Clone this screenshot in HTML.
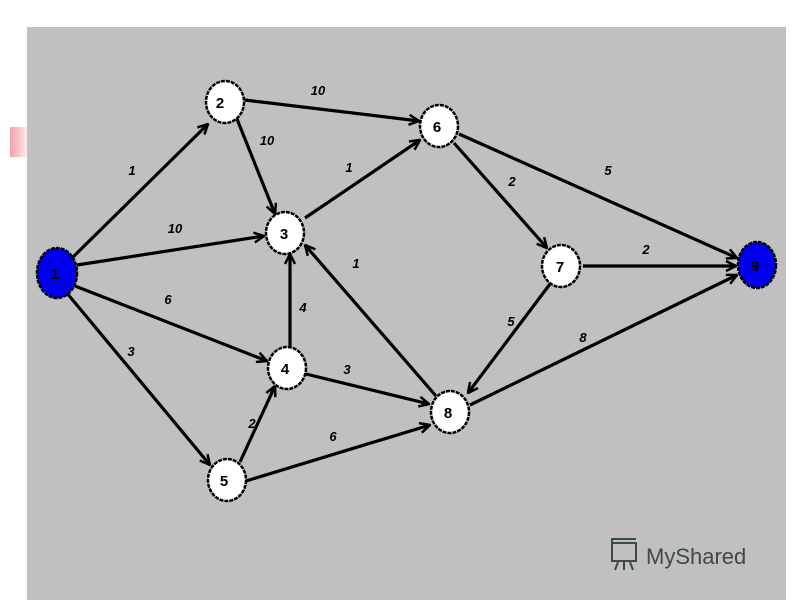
<!DOCTYPE html><html><head><style>body{margin:0;background:#fff}</style></head><body>
<svg width="800" height="600" xmlns="http://www.w3.org/2000/svg" style="display:block">
<defs><marker id="a" markerWidth="12" markerHeight="12" refX="11" refY="6" orient="auto" markerUnits="userSpaceOnUse"><path d="M1,1 L11,6 L1,11" fill="none" stroke="#000" stroke-width="2.5"/></marker>
<linearGradient id="p" x1="0" x2="1"><stop offset="0" stop-color="#f4a0a8"/><stop offset="1" stop-color="#fde8ea"/></linearGradient></defs>
<rect x="10" y="127" width="17" height="30" fill="url(#p)"/>
<rect x="27" y="27" width="759" height="573" fill="#c0c0c0"/>
<g stroke="#000" stroke-width="3.2" marker-end="url(#a)">
<line x1="72" y1="258" x2="208" y2="124"/>
<line x1="77" y1="265" x2="264" y2="236"/>
<line x1="75" y1="286" x2="267" y2="361"/>
<line x1="66" y1="292" x2="210" y2="465"/>
<line x1="245" y1="100" x2="419" y2="121"/>
<line x1="237" y1="119" x2="275" y2="214"/>
<line x1="305" y1="218" x2="420" y2="140"/>
<line x1="290" y1="348" x2="290" y2="254"/>
<line x1="240" y1="462" x2="275" y2="386"/>
<line x1="306" y1="374" x2="429" y2="404"/>
<line x1="246" y1="481" x2="430" y2="425"/>
<line x1="436" y1="396" x2="305" y2="245"/>
<line x1="454" y1="143" x2="547" y2="248"/>
<line x1="459" y1="134" x2="737" y2="258"/>
<line x1="583" y1="266" x2="736" y2="266"/>
<line x1="550" y1="284" x2="468" y2="393"/>
<line x1="470" y1="405" x2="737" y2="275"/>
</g>
<g stroke="#000" stroke-width="2.5" stroke-dasharray="4 1" fill="#fff">
<ellipse cx="57" cy="273" rx="20" ry="25" fill="#0000ee"/>
<ellipse cx="225" cy="102" rx="19" ry="21"/>
<ellipse cx="285" cy="233" rx="19" ry="21"/>
<ellipse cx="287" cy="368" rx="19" ry="21"/>
<ellipse cx="227" cy="480" rx="19" ry="21"/>
<ellipse cx="439" cy="126" rx="19" ry="21"/>
<ellipse cx="561" cy="266" rx="19" ry="21"/>
<ellipse cx="450" cy="412" rx="19" ry="21"/>
<ellipse cx="757" cy="265" rx="19" ry="23" fill="#0000ee"/>
</g>
<g font-family="Liberation Sans,sans-serif" font-size="15" font-weight="bold" text-anchor="middle" fill="#000">
<text x="55" y="279">1</text><text x="220" y="108">2</text><text x="284" y="239">3</text><text x="285" y="374">4</text>
<text x="224" y="486">5</text><text x="437" y="132">6</text><text x="560" y="272">7</text><text x="448" y="418">8</text><text x="755" y="271">9</text>
</g>
<g font-family="Liberation Sans,sans-serif" font-size="13" font-weight="bold" font-style="italic" text-anchor="middle" fill="#000">
<text x="132" y="175">1</text><text x="175" y="233">10</text><text x="168" y="304">6</text><text x="131" y="356">3</text>
<text x="318" y="95">10</text><text x="267" y="145">10</text><text x="349" y="172">1</text><text x="303" y="312">4</text>
<text x="252" y="428">2</text><text x="347" y="374">3</text><text x="333" y="441">6</text><text x="356" y="268">1</text>
<text x="512" y="186">2</text><text x="608" y="175">5</text><text x="646" y="254">2</text><text x="511" y="326">5</text><text x="583" y="342">8</text>
</g>
<g fill="none" stroke="#3e4a44" stroke-width="2"><rect x="612" y="543" width="24" height="18"/><path d="M612,543 v-4 h24"/><path d="M618,562 l-3,8 M624,562 v8 M630,562 l3,8"/></g>
<text x="646" y="564" font-family="Liberation Sans,sans-serif" font-size="22" fill="#3e4a44">MyShared</text>
</svg>
</body></html>
